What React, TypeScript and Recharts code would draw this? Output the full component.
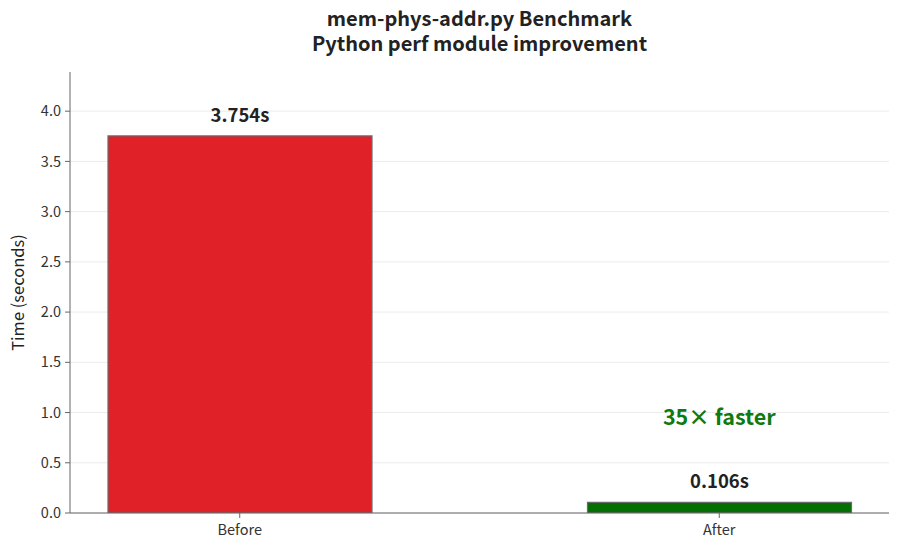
import { BarChart, Bar, XAxis, YAxis, CartesianGrid, Cell, LabelList, ReferenceDot } from 'recharts'

const CATEGORIES = ['Before', 'After']
const TIMES = [3.754, 0.106]
const BAR_COLORS = ['#e02128', '#047004']
const Y_TICKS = [0, 0.5, 1, 1.5, 2, 2.5, 3, 3.5, 4]
const TITLE_LINES = ['mem-phys-addr.py Benchmark', 'Python perf module improvement']
const SPEEDUP_LABEL = '35× faster'
const SPEEDUP_Y = 0.95

const FONT = '"Noto Sans CJK JP", "Noto Sans", sans-serif'

export default function App() {
  // numeric x so the bars can sit the way matplotlib placed them
  const data = CATEGORIES.map((name, i) => ({ x: i, name, time: TIMES[i] }))

  return (
    <div style={{ position: 'absolute', left: 0, top: 0, width: 900, height: 548, fontFamily: FONT, background: '#fff' }}>
      <div
        style={{
          position: 'absolute',
          left: 70,
          width: 819,
          top: 6,
          textAlign: 'center',
          fontSize: 20,
          fontWeight: 700,
          lineHeight: '24.5px',
          color: '#222',
        }}
      >
        {TITLE_LINES[0]}
        <br />
        {TITLE_LINES[1]}
      </div>
      <BarChart width={900} height={548} data={data} margin={{ top: 72, right: 11, bottom: 0, left: 0 }}>
        <CartesianGrid vertical={false} stroke="#ececec" horizontalValues={Y_TICKS} />
        <XAxis
          dataKey="x"
          type="number"
          domain={[-0.354, 1.354]}
          ticks={[0, 1]}
          tickFormatter={(v) => CATEGORIES[v] ?? ''}
          height={35}
          stroke="#666"
          tickSize={5}
          tickMargin={7}
          tick={{ fontSize: 14.5, fill: '#333', fontFamily: FONT }}
          allowDataOverflow
        />
        <YAxis
          type="number"
          domain={[0, 4.39]}
          ticks={Y_TICKS}
          tickFormatter={(v) => v.toFixed(1)}
          width={70}
          stroke="#666"
          tickSize={5}
          tickMargin={4}
          tick={{ fontSize: 14.5, fill: '#333', fontFamily: FONT }}
          allowDataOverflow
          label={{
            content: (props: any) => {
              const vb = props.viewBox
              const cx = 17
              const cy = vb.y + vb.height / 2
              return (
                <text
                  x={cx}
                  y={cy}
                  transform={`rotate(-90 ${cx} ${cy})`}
                  textAnchor="middle"
                  dominantBaseline="central"
                  fontSize={16.5}
                  fill="#222"
                  fontFamily={FONT}
                >
                  Time (seconds)
                </text>
              )
            },
          }}
        />
        <Bar dataKey="time" barSize={264} stroke="#6b6b6b" strokeWidth={1.2} isAnimationActive={false}>
          {data.map((d, i) => (
            <Cell key={d.name} fill={BAR_COLORS[i]} />
          ))}
          <LabelList
            dataKey="time"
            position="top"
            offset={14}
            formatter={(v: any) => `${Number(v).toFixed(3)}s`}
            style={{ fontSize: 18.5, fontWeight: 700, fill: '#222', fontFamily: FONT }}
          />
        </Bar>
        <ReferenceDot
          x={1}
          y={SPEEDUP_Y}
          r={0}
          fill="none"
          stroke="none"
          label={{
            value: SPEEDUP_LABEL,
            position: 'center',
            style: { fontSize: 21.5, fontWeight: 700, fill: '#0f7a0f', fontFamily: FONT },
          }}
        />
      </BarChart>
    </div>
  )
}
